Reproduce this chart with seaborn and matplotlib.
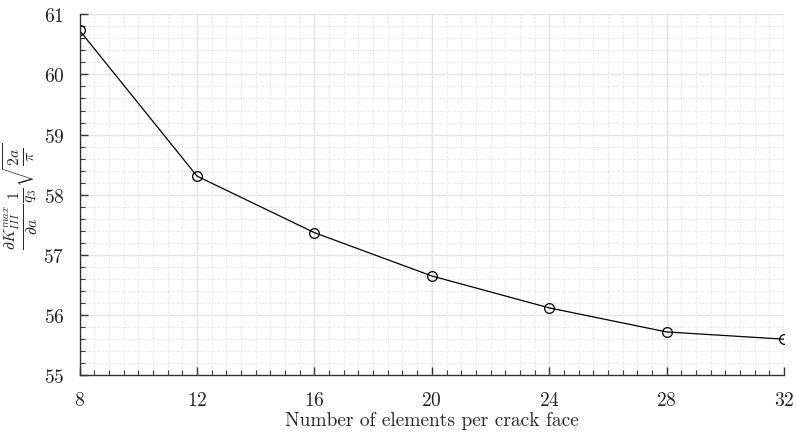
import matplotlib
matplotlib.use("Agg")
import matplotlib.pyplot as plt
import seaborn as sns
import pandas as pd
from matplotlib.ticker import MultipleLocator

elements = [8, 12, 16, 20, 24, 28, 32]
values = [60.73, 58.31, 57.37, 56.65, 56.12, 55.72, 55.60]

sns.set_style("white")
plt.rcParams['font.family'] = ['cmr10']
plt.rcParams['mathtext.fontset'] = 'cm'
plt.rcParams['axes.formatter.use_mathtext'] = True

df = pd.DataFrame({"n": elements, "v": values})
fig, ax = plt.subplots(figsize=(7.96, 4.35), dpi=100)
sns.lineplot(data=df, x="n", y="v", ax=ax, color="black", linewidth=0.9,
             marker="o", markersize=7, markerfacecolor="none",
             markeredgecolor="black", markeredgewidth=0.9)

ax.set_xlim(8, 32)
ax.set_ylim(55, 61)
ax.xaxis.set_major_locator(MultipleLocator(4))
ax.xaxis.set_minor_locator(MultipleLocator(0.5))
ax.yaxis.set_major_locator(MultipleLocator(1))
ax.yaxis.set_minor_locator(MultipleLocator(0.2))
ax.grid(True, which="major", color="#e4e4e4", linewidth=1.0, linestyle="-")
ax.grid(True, which="minor", color="#d4d4d4", linewidth=0.6, linestyle=(0, (1, 2)))
ax.set_axisbelow(True)
for s in ["top", "right"]:
    ax.spines[s].set_visible(False)
for s in ["left", "bottom"]:
    ax.spines[s].set_color("#333333")
    ax.spines[s].set_linewidth(1.0)
ax.tick_params(which="both", direction="in", color="#333333", labelsize=14,
               bottom=True, left=True, top=False, right=False)
ax.tick_params(which="major", length=6, width=1.0)
ax.tick_params(which="minor", length=3.5, width=0.8)
ax.tick_params(axis="x", pad=11)
ax.tick_params(axis="y", pad=11)
ax.set_xlabel("Number of elements per crack face", fontsize=14, labelpad=2)
ax.set_ylabel(r"$\frac{\partial K_{III}^{max}}{\partial a}\frac{1}{q_3}\sqrt{\frac{2a}{\pi}}$", fontsize=16)
ax.yaxis.set_label_coords(-0.056, 0.5)
for lab in ax.get_xticklabels() + ax.get_yticklabels():
    lab.set_color("#222222")

fig.subplots_adjust(left=0.1, right=0.985, top=0.965, bottom=0.135)
fig.savefig("out.png", dpi=100)
